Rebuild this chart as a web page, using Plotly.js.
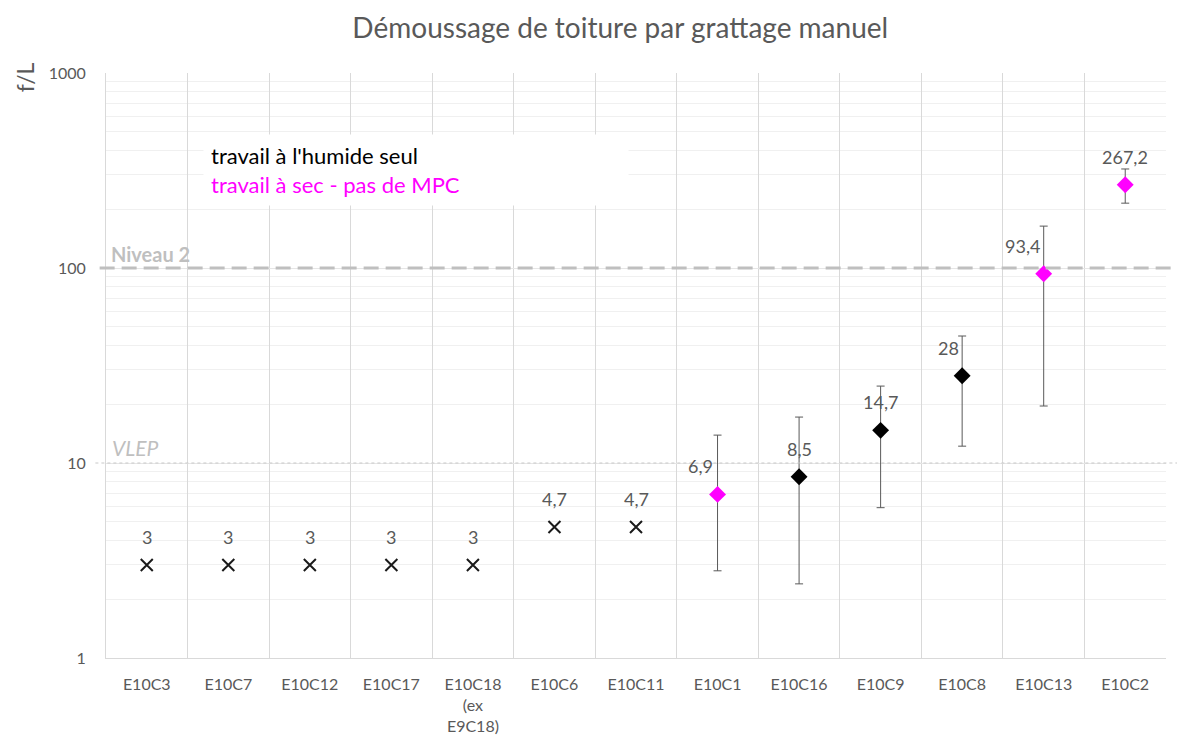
<!DOCTYPE html>
<html>
<head>
<meta charset="utf-8">
<script src="https://cdn.plot.ly/plotly-3.0.1.min.js"></script>
<style>html,body{margin:0;padding:0;background:#fff;}#chart{width:1177px;height:738px;}</style>
</head>
<body>
<div id="chart"></div>
<script>
// ---- data ----
var categories = ["E10C3","E10C7","E10C12","E10C17","E10C18<br>(ex<br>E9C18)","E10C6","E10C11","E10C1","E10C16","E10C9","E10C8","E10C13","E10C2"];

// values below quantification (drawn as crosses)
var crossCats = ["E10C3","E10C7","E10C12","E10C17","E10C18<br>(ex<br>E9C18)","E10C6","E10C11"];
var crossVals = [3, 3, 3, 3, 3, 4.7, 4.7];

// wet work only (black diamonds)
var wetCats = ["E10C16","E10C9","E10C8"];
var wetVals = [8.5, 14.7, 28];
var wetUpper = [17.2, 24.8, 44.8];
var wetLower = [2.4, 5.9, 12.2];

// dry work, no MPC (magenta diamonds)
var dryCats = ["E10C1","E10C13","E10C2"];
var dryVals = [6.9, 93.4, 267.2];
var dryUpper = [13.9, 164, 322];
var dryLower = [2.8, 19.6, 215];

var yTicks = [1, 10, 100, 1000];
var niveau2 = 100;
var vlep = 10;

// ---- helpers ----
function plus(v, u){ return v.map(function(x,i){ return u[i]-x; }); }
function minus(v, l){ return v.map(function(x,i){ return x-l[i]; }); }
function fmt(v){ return String(v).replace('.', ','); }

var FONT = 'Lato, "Open Sans", sans-serif';
var GREY = '#595959';

var errStyle = {type:'data', symmetric:false, color:'#595959', thickness:1, width:4};

var traces = [
  {type:'scatter', mode:'markers', x:crossCats, y:crossVals,
   marker:{symbol:'x-thin', size:12, line:{width:2, color:'#1a1a1a'}, color:'#1a1a1a'},
   showlegend:false},
  {type:'scatter', mode:'markers', x:wetCats, y:wetVals,
   marker:{symbol:'diamond', size:13, color:'#000000'},
   error_y:Object.assign({array:plus(wetVals, wetUpper), arrayminus:minus(wetVals, wetLower)}, errStyle),
   showlegend:false},
  {type:'scatter', mode:'markers', x:dryCats, y:dryVals,
   marker:{symbol:'diamond', size:13, color:'#ff00ff'},
   error_y:Object.assign({array:plus(dryVals, dryUpper), arrayminus:minus(dryVals, dryLower)}, errStyle),
   showlegend:false}
];

// label offsets (style only)
var labelShift = {"E10C1":-17, "E10C8":-14, "E10C13":-21};

var annotations = [];
function addLabels(cats, vals){
  cats.forEach(function(c, i){
    annotations.push({x:c, y:Math.log10(vals[i]), xref:'x', yref:'y', text:fmt(vals[i]),
      showarrow:false, yshift:28, xshift:labelShift[c]||0,
      font:{family:FONT, size:18, color:GREY}});
  });
}
addLabels(crossCats, crossVals);
addLabels(wetCats, wetVals);
addLabels(dryCats, dryVals);

annotations.push({xref:'paper', yref:'y', x:0.003, y:Math.log10(niveau2), xanchor:'left', yanchor:'bottom',
  yshift:0, text:'<b>Niveau 2</b>', showarrow:false, font:{family:FONT, size:20, color:'#bfbfbf'}});
annotations.push({xref:'paper', yref:'y', x:0.004, y:Math.log10(vlep), xanchor:'left', yanchor:'bottom',
  yshift:1, text:'<i>VLEP</i>', showarrow:false, font:{family:FONT, size:21, color:'#bfbfbf'}});

// legend box
annotations.push({xref:'paper', yref:'paper', x:(203-106)/1060, y:1-(134-73)/585, xanchor:'left', yanchor:'top',
  text:'travail à l\'humide seul<br><span style="color:#ff00ff">travail à sec - pas de MPC</span>',
  align:'left', width:410, showarrow:false, bgcolor:'#ffffff', borderpad:7,
  font:{family:FONT, size:22, color:'#000000'}});
// y axis title
annotations.push({xref:'paper', yref:'paper', x:(25-106)/1060, y:1.022, xanchor:'center', yanchor:'top',
  text:'f/L', textangle:-90, showarrow:false, font:{family:FONT, size:23, color:GREY}});

var shapes = [
  {type:'line', xref:'paper', yref:'y', x0:-0.006, x1:1.02, y0:niveau2, y1:niveau2,
   line:{color:'#bfbfbf', width:3, dash:'15px,7px'}, layer:'above'},
  {type:'line', xref:'paper', yref:'y', x0:-0.01, x1:1.02, y0:vlep, y1:vlep,
   line:{color:'#c8c8c8', width:1, dash:'3px,3px'}, layer:'above'}
];

var layout = {
  width:1177, height:738,
  margin:{l:106, r:11, t:73, b:80},
  paper_bgcolor:'#ffffff', plot_bgcolor:'#ffffff',
  title:{text:'Démoussage de toiture par grattage manuel', x:0.527, xanchor:'center', y:0.962, yanchor:'middle',
    font:{family:FONT, size:28, color:GREY}},
  xaxis:{type:'category', categoryorder:'array', categoryarray:categories,
    range:[-0.5, 12.5], tickson:'boundaries', showgrid:true, gridcolor:'#d9d9d9', gridwidth:1,
    ticks:'', showline:true, linecolor:'#d9d9d9', mirror:false, ticklabelstandoff:12,
    tickfont:{family:FONT, size:16, color:GREY}, fixedrange:true, zeroline:false},
  yaxis:{type:'log', range:[0,3], tickvals:yTicks, ticktext:yTicks.map(String),
    showgrid:true, gridcolor:'#e6e6e6', gridwidth:1,
    minor:{showgrid:true, gridcolor:'#f0f0f0', dtick:'D1', ticks:''},
    showline:true, linecolor:'#d9d9d9', ticks:'', ticklen:0, ticklabelstandoff:16,
    tickfont:{family:FONT, size:16, color:GREY}, zeroline:false},
  annotations:annotations,
  shapes:shapes,
  showlegend:false
};

Plotly.newPlot('chart', traces, layout, {displayModeBar:false, staticPlot:true});
</script>
</body>
</html>
